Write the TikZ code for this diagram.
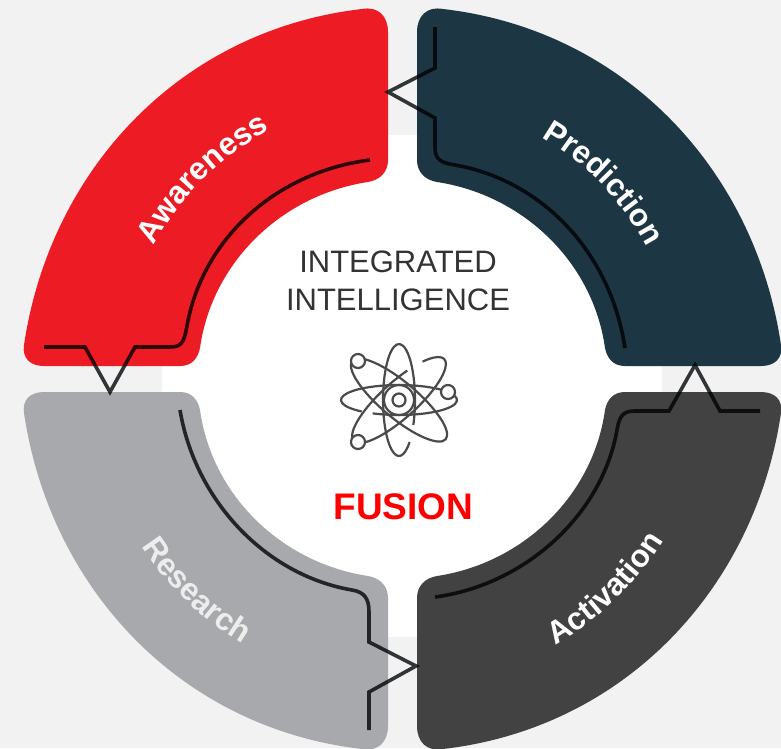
\documentclass[tikz,border=0pt]{standalone}
\usepackage{fontspec}
\setmainfont{Liberation Sans}
\usetikzlibrary{decorations.text}
\definecolor{bgg}{HTML}{F2F2F2}
\definecolor{cred}{HTML}{ED1C24}
\definecolor{cblue}{HTML}{1C3644}
\definecolor{cdark}{HTML}{424242}
\definecolor{cgray}{HTML}{A7A9AC}
\definecolor{cline}{HTML}{33383C}
\definecolor{ciconc}{HTML}{4A4A4A}
\definecolor{cres}{HTML}{EDEDED}
\newcommand{\petalshape}{(388,32) .. controls (388,16) and (378,6) .. (362,9) .. controls (180,30) and (50,170) .. (24,345) .. controls (22,358) and (30,366) .. (44,366) -- (180,366) .. controls (192,366) and (198,358) .. (200,348) .. controls (212,262) and (282,195) .. (368,182) .. controls (380,180) and (388,172) .. (388,160) -- cycle}
\newcommand{\arcword}[5]{% colour, word, start angle, end angle, radius
  \path[decorate,decoration={text along path,text align=center,
    text={|\fontsize{31.5}{31.5}\selectfont\bfseries\color{#1}|#2}}]
    (#3:#5) arc[start angle=#3,end angle=#4,radius=#5];}
\tikzset{
  petal/.style={fill=#1},
  wire/.style={draw=cline,line width=3.6pt,line join=miter,blend mode=multiply},
  iconline/.style={draw=ciconc,line width=2.2pt},
  titleword/.style={font=\fontsize{31}{31}\selectfont,text=black!80,inner sep=0pt,anchor=center},
}
\begin{document}
\begin{tikzpicture}[x=1pt,y=-1pt]
\useasboundingbox (0,0) rectangle (781,748);
\clip (0,0) rectangle (781,748);
\fill[bgg] (0,0) rectangle (781,748);
\fill[white] (162,135) rectangle (662,637);
% petals
\fill[petal=cred] \petalshape;
\begin{scope}[shift={(805,0)},xscale=-1]\fill[petal=cblue] \petalshape;\end{scope}
\begin{scope}[shift={(0,758)},yscale=-1]\fill[petal=cgray] \petalshape;\end{scope}
\begin{scope}[shift={(805,758)},scale=-1]\fill[petal=cdark] \petalshape;\end{scope}
% wires
\draw[wire] (370,160) .. controls (275,172) and (202,240) .. (187,326) .. controls (184,342) and (182,347) .. (170,347) -- (135,347) -- (110,392) -- (85,347) -- (44,347);
\draw[wire] (435,27) -- (435,68) -- (388,92) -- (435,118) -- (435,148) .. controls (435,160) and (442,163) .. (455,165) .. controls (540,180) and (610,250) .. (625,348);
\draw[wire] (760,411) -- (720,411) -- (695,365) -- (669,411) -- (634,411) .. controls (622,411) and (619,418) .. (617,430) .. controls (602,515) and (525,585) .. (435,597);
\draw[wire] (180,410) .. controls (195,500) and (265,575) .. (352,590) .. controls (364,592) and (369,598) .. (369,612) -- (369,642) -- (416,666) -- (369,692) -- (369,730);
% arc labels
\begin{scope}[shift={(402,378)},y=1pt]
\arcword{white}{Awareness}{175}{95}{281}
\arcword{white}{Prediction}{85}{3}{278}
\arcword{white}{Activation}{-87}{-5}{308}
\arcword{cres}{Research}{185}{267}{310}
\end{scope}
% title
\node[titleword] (t1) at (398,262) {INTEGRATED};
\node[titleword] (t2) at (398,300) {INTELLIGENCE};
\node[font=\fontsize{37}{37}\selectfont\bfseries,text={rgb,255:red,255;green,0;blue,0},inner sep=0pt] (t3) at (403.5,507) {FUSION};
% atom icon
\begin{scope}[shift={(399,400)},y=1pt]
\draw[iconline] (0,0) circle[radius=6.5pt];
\draw[iconline] (0,0) circle[radius=15pt];
\draw[iconline] (16*0.895,56*-0.446) arc[start angle=-26.5,end angle=311.4,x radius=16pt,y radius=56pt];
\draw[iconline] (58*-0.454,15*-0.891) arc[start angle=243,end angle=590,x radius=58pt,y radius=15pt];
\begin{scope}[rotate=-40]
\draw[iconline] (0,0) circle[x radius=61pt,y radius=18pt];
\end{scope}
\begin{scope}[rotate=42]
\draw[iconline] (61*0.423,18*0.906) arc[start angle=65,end angle=405,x radius=61pt,y radius=18pt];
\end{scope}
\draw[iconline,fill=white] (49,8) circle[radius=7pt];
\draw[iconline,fill=white] (-41,39) circle[radius=7pt];
\draw[iconline,fill=white] (-41,-42) circle[radius=7pt];
\end{scope}
\end{tikzpicture}
\end{document}
